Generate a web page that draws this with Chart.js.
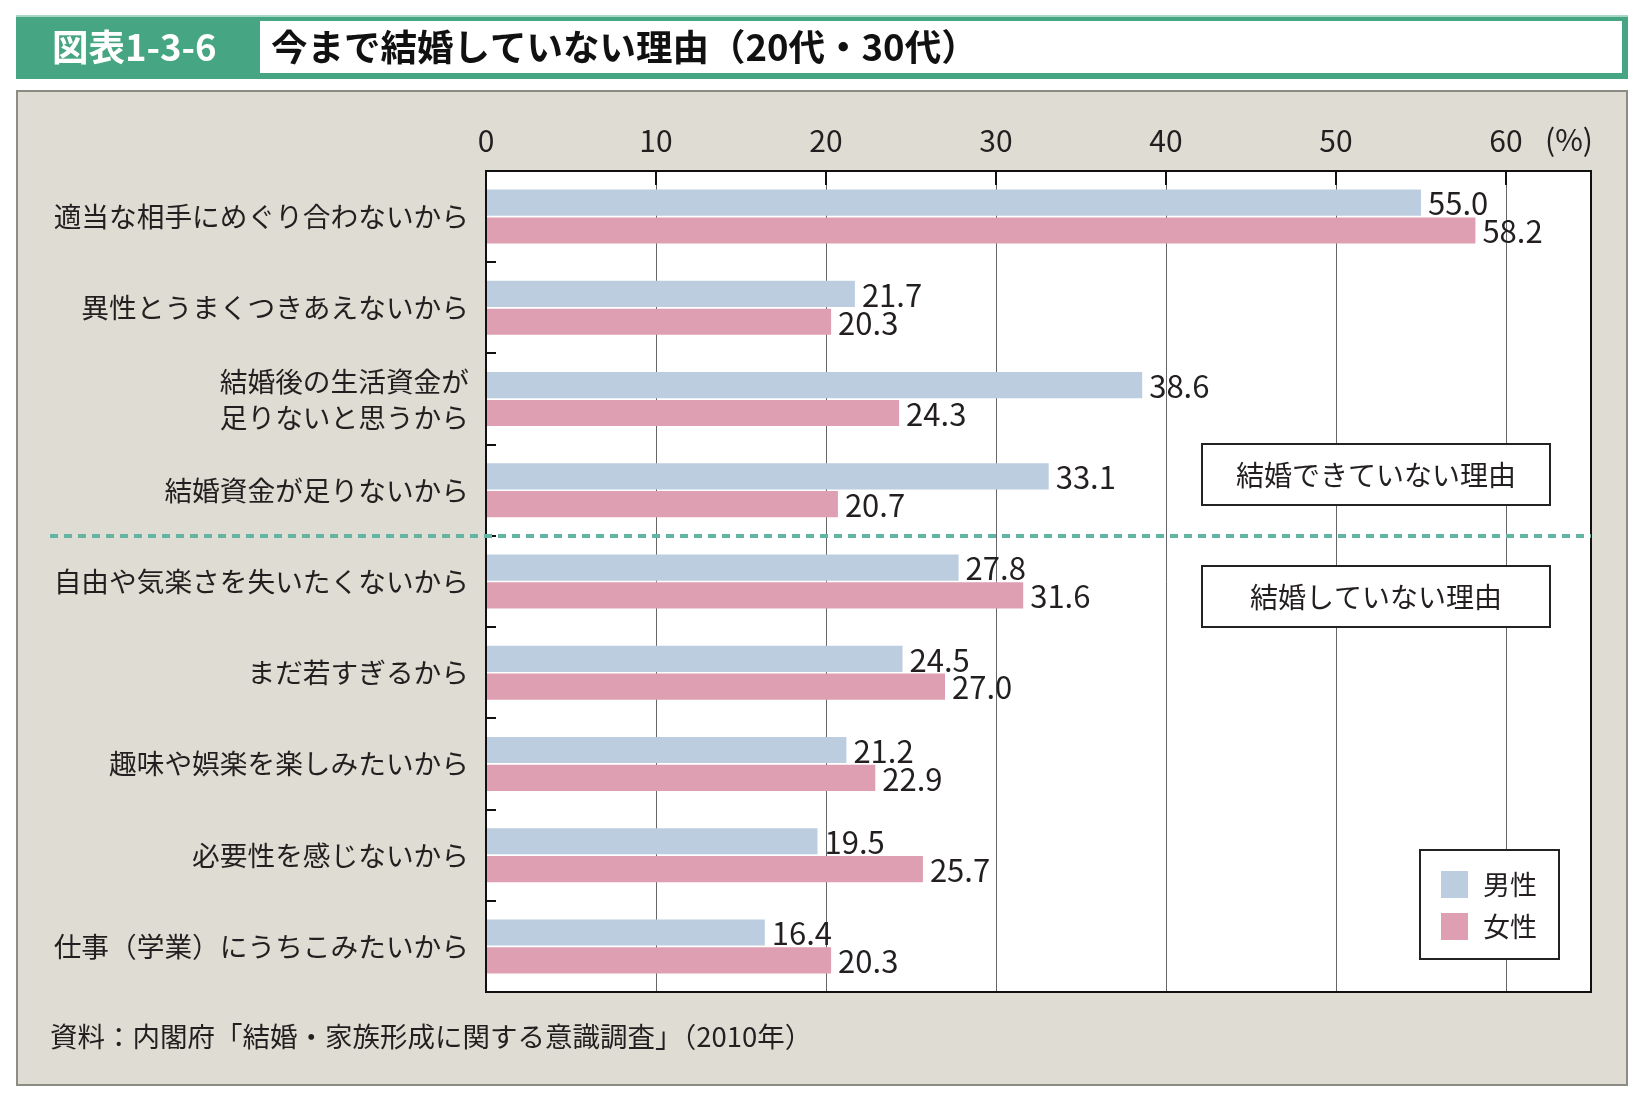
<!DOCTYPE html>
<html lang="ja">
<head>
<meta charset="utf-8">
<title>今まで結婚していない理由（20代・30代）</title>
<script src="https://cdn.jsdelivr.net/npm/chart.js@4.4.1/dist/chart.umd.min.js"></script>
<style>
  html, body { margin: 0; padding: 0; background: #fff; }
  canvas { display: block; }
</style>
</head>
<body>
<canvas id="reasonChart" width="1650" height="1104"></canvas>
<script>
var reasons = [
  '適当な相手にめぐり合わないから',
  '異性とうまくつきあえないから',
  ['結婚後の生活資金が', '足りないと思うから'],
  '結婚資金が足りないから',
  '自由や気楽さを失いたくないから',
  'まだ若すぎるから',
  '趣味や娯楽を楽しみたいから',
  '必要性を感じないから',
  '仕事（学業）にうちこみたいから'
];
var maleValues   = [55.0, 21.7, 38.6, 33.1, 27.8, 24.5, 21.2, 19.5, 16.4];
var femaleValues = [58.2, 20.3, 24.3, 20.7, 31.6, 27.0, 22.9, 25.7, 20.3];
var seriesNames  = ['男性', '女性'];
var axisTicks    = [0, 10, 20, 30, 40, 50, 60];
var groupNames   = ['結婚できていない理由', '結婚していない理由'];

var chartTitle  = '今まで結婚していない理由（20代・30代）';
var chartNumber = '図表1-3-6';
var sourceNote  = '資料：内閣府「結婚・家族形成に関する意識調査」（2010年）';

var FONT = '"Noto Sans CJK JP", "Noto Sans", sans-serif';
var INK = '#231f20';
var BLUE = '#bccddf';
var PINK = '#df9fb2';

// frame, panel, labels and other decorations around the plot
var decor = {
  id: 'decor',
  beforeDraw: function(chart) {
    var c = chart.ctx, a = chart.chartArea;
    c.save();
    c.fillStyle = '#fff';
    c.fillRect(0, 0, chart.width, chart.height);

    // title bar
    c.fillStyle = '#46a582';
    c.fillRect(16, 15, 1612, 64);
    c.fillStyle = '#a6d7c4';
    c.fillRect(16, 15, 1612, 2);
    c.fillStyle = '#fff';
    c.fillRect(260, 21, 1362, 52);
    c.font = 'bold 36.5px ' + FONT;
    c.textBaseline = 'middle';
    c.textAlign = 'left';
    c.fillStyle = '#fff';
    c.fillText(chartNumber, 52, 47);
    c.fillStyle = '#111';
    c.fillText(chartTitle, 271, 47);

    // grey panel
    c.fillStyle = '#dfddd3';
    c.fillRect(16, 90, 1612, 996);
    c.strokeStyle = '#8c8b86';
    c.lineWidth = 2;
    c.strokeRect(17, 91, 1610, 994);

    // plot background
    c.fillStyle = '#fff';
    c.fillRect(a.left, a.top, a.right - a.left, a.bottom - a.top);
    c.restore();
  },
  afterDatasetsDraw: function(chart) {
    var c = chart.ctx;
    c.save();
    c.font = '31px ' + FONT;
    c.fillStyle = INK;
    c.textAlign = 'left';
    c.textBaseline = 'middle';
    chart.data.datasets.forEach(function(ds, i) {
      chart.getDatasetMeta(i).data.forEach(function(bar, j) {
        c.fillText(ds.data[j].toFixed(1), bar.x + 7, bar.y + 1);
      });
    });
    c.restore();
  },
  afterDraw: function(chart) {
    var c = chart.ctx, a = chart.chartArea;
    var xs = chart.scales.x, ys = chart.scales.y;
    c.save();
    c.strokeStyle = '#111';
    c.lineWidth = 2;

    // ticks pointing into the plot
    axisTicks.forEach(function(v) {
      if (v === 0) return;
      var px = Math.round(xs.getPixelForValue(v));
      c.beginPath();
      c.moveTo(px, a.top);
      c.lineTo(px, a.top + 14);
      c.stroke();
    });
    for (var i = 1; i < reasons.length; i++) {
      var py = Math.round((ys.getPixelForValue(i - 1) + ys.getPixelForValue(i)) / 2);
      c.beginPath();
      c.moveTo(a.left, py);
      c.lineTo(a.left + 10, py);
      c.stroke();
    }
    c.strokeRect(a.left, a.top, a.right - a.left, a.bottom - a.top);

    c.font = '30px ' + FONT;
    c.fillStyle = INK;
    c.textAlign = 'left';
    c.textBaseline = 'middle';
    c.fillText('(%)', 1545, 140);

    // divider between the two groups of reasons
    var split = (ys.getPixelForValue(3) + ys.getPixelForValue(4)) / 2;
    c.save();
    c.strokeStyle = '#63b4a2';
    c.lineWidth = 4;
    c.setLineDash([8, 6]);
    c.beginPath();
    c.moveTo(50, split);
    c.lineTo(a.right, split);
    c.stroke();
    c.restore();

    // group labels
    var boxes = [[1202, 444], [1202, 566]];
    c.font = '28px ' + FONT;
    c.textAlign = 'center';
    boxes.forEach(function(b, k) {
      c.fillStyle = '#fff';
      c.fillRect(b[0], b[1], 348, 61);
      c.strokeStyle = '#222';
      c.lineWidth = 2;
      c.strokeRect(b[0], b[1], 348, 61);
      c.fillStyle = INK;
      c.fillText(groupNames[k], b[0] + 174, b[1] + 31);
    });

    // legend
    c.fillStyle = '#fff';
    c.fillRect(1420, 850, 139, 109);
    c.strokeStyle = '#222';
    c.lineWidth = 2;
    c.strokeRect(1420, 850, 139, 109);
    c.textAlign = 'left';
    c.font = '27px ' + FONT;
    chart.data.datasets.forEach(function(ds, k) {
      var top = 871 + k * 42;
      c.fillStyle = ds.backgroundColor;
      c.fillRect(1441, top, 27, 27);
      c.fillStyle = INK;
      c.fillText(ds.label, 1483, top + 14);
    });

    // source
    c.font = '27.5px ' + FONT;
    c.fillStyle = INK;
    c.fillText(sourceNote, 50, 1037);
    c.restore();
  }
};

new Chart(document.getElementById('reasonChart'), {
  type: 'bar',
  data: {
    labels: reasons,
    datasets: [
      { label: seriesNames[0], data: maleValues, backgroundColor: BLUE,
        categoryPercentage: 0.61, barPercentage: 0.94 },
      { label: seriesNames[1], data: femaleValues, backgroundColor: PINK,
        categoryPercentage: 0.61, barPercentage: 0.94 }
    ]
  },
  options: {
    indexAxis: 'y',
    responsive: false,
    devicePixelRatio: 1,
    animation: false,
    layout: { padding: { left: 0, top: 0, right: 59, bottom: 112 } },
    plugins: {
      legend: { display: false },
      tooltip: { enabled: false }
    },
    scales: {
      x: {
        position: 'top',
        min: 0,
        max: 65,
        afterFit: function(s) { s.height = 171; },
        ticks: {
          stepSize: 10,
          includeBounds: false,
          padding: 12,
          color: INK,
          font: { family: FONT, size: 30 },
          callback: function(v) { return axisTicks.indexOf(v) >= 0 ? String(v) : ''; }
        },
        grid: {
          drawTicks: false,
          lineWidth: 1,
          color: function(ctx) {
            var v = ctx.tick ? ctx.tick.value : 0;
            return v > 0 && v <= 60 ? '#666' : 'rgba(0,0,0,0)';
          }
        },
        border: { display: false }
      },
      y: {
        afterFit: function(s) { s.width = 486; },
        ticks: {
          padding: 17,
          color: INK,
          font: { family: FONT, size: 27.7, lineHeight: 1.3 }
        },
        grid: { display: false, drawTicks: false },
        border: { display: false }
      }
    }
  },
  plugins: [decor]
});
</script>
</body>
</html>
